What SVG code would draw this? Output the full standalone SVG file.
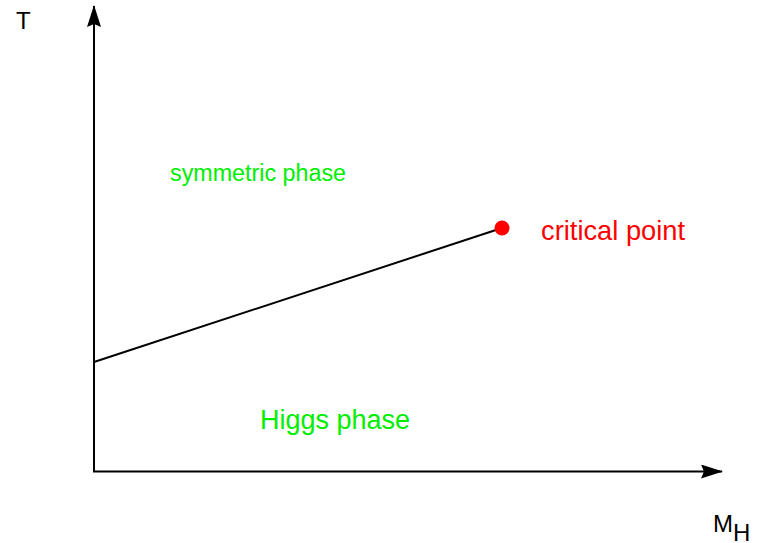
<svg xmlns="http://www.w3.org/2000/svg" width="760" height="543" viewBox="0 0 760 543">
<style>
text { font-family: "Liberation Sans", Arial, sans-serif; }
.ax { stroke: #000; stroke-width: 2; fill: none; }
.green { fill: #00ee00; }
.red { fill: #ff0000; }
</style>
<defs>
<marker id="arr" markerUnits="userSpaceOnUse" markerWidth="24" markerHeight="16" refX="21" refY="7" orient="auto" viewBox="0 0 24 16">
<path d="M0,0 L22,7 L0,14 L3,7 Z" fill="#000"/>
</marker>
</defs>
<rect width="760" height="543" fill="#fff"/>
<g id="connectors">
<path class="ax" d="M94,472 L94,6" marker-end="url(#arr)"/>
<path class="ax" d="M93,471.5 L722,471.5" marker-end="url(#arr)"/>
<path d="M94,362 L502,228" stroke="#000" stroke-width="2" fill="none"/>
</g>
<g id="axis-T"><text x="16" y="29" font-size="24">T</text></g>
<g id="axis-MH"><text x="713" y="532" font-size="24">M<tspan dy="9">H</tspan></text></g>
<g id="symmetric-phase"><text class="green" x="170" y="181" font-size="23.3">symmetric phase</text></g>
<g id="higgs-phase"><text class="green" x="260" y="429" font-size="27">Higgs phase</text></g>
<g id="critical-point">
<circle cx="502" cy="228" r="7.5" fill="#ff0000"/>
<text class="red" x="541" y="240" font-size="27.3">critical point</text>
</g>
</svg>
